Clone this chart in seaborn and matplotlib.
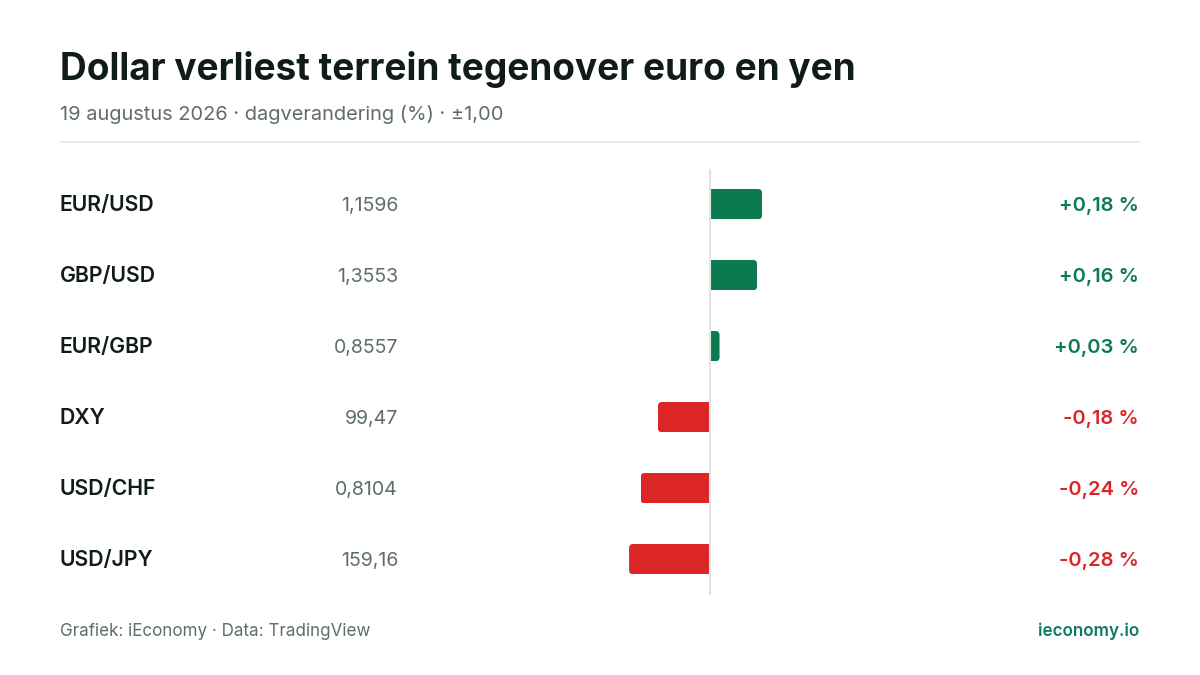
import matplotlib
matplotlib.use("Agg")
import matplotlib.pyplot as plt
from matplotlib.patches import FancyBboxPatch, Rectangle
import pandas as pd
import seaborn as sns

pairs = ["EUR/USD", "GBP/USD", "EUR/GBP", "DXY", "USD/CHF", "USD/JPY"]
prices = ["1,1596", "1,3553", "0,8557", "99,47", "0,8104", "159,16"]
# unrounded a little where the bar length shows it
changes = [0.18, 0.163, 0.033, -0.18, -0.24, -0.28]
change_labels = ["+0,18 %", "+0,16 %", "+0,03 %", "-0,18 %", "-0,24 %", "-0,28 %"]

GREEN = "#0b7a4f"
TEAL = "#0e7a62"
RED = "#dc2626"
INK = "#0f1c1a"
MUTED = "#5f6e6a"
RULE = "#e0e5e3"

sns.set_theme(style="white")
plt.rcParams["font.family"] = ["Inter", "DejaVu Sans"]

W, H = 1200, 675
PX_PER_UNIT = 289.0
PX_PER_ROW = 71.0
fig = plt.figure(figsize=(W / 100, H / 100), dpi=100, facecolor="white")


def px(x, y):
    return x / W, 1 - y / H


ax = fig.add_axes([0, 1 - 594.6 / H, 1, 426 / H])
df = pd.DataFrame({"pair": pairs, "change": changes})
colors = [GREEN if c > 0 else RED for c in changes]
sns.barplot(data=df, x="change", y="pair", hue="pair", palette=colors, legend=False,
            width=0.425, ax=ax, saturation=1)
ax.set_xlim(-710 / PX_PER_UNIT, (W - 710) / PX_PER_UNIT)
ax.set_ylim(5.5, -0.5)

# swap seaborn's square bars for ones with a rounded outer end
rx = 4 / PX_PER_UNIT
ry = 4 / PX_PER_ROW
for bar in list(ax.patches):
    x0, x1 = sorted([bar.get_x(), bar.get_x() + bar.get_width()])
    y0, y1 = sorted([bar.get_y(), bar.get_y() + bar.get_height()])
    color = bar.get_facecolor()
    bar.remove()
    # box runs past zero on the inner side, the clip cuts that part off
    left = x0 - 3 * rx if x0 == 0 else x0
    right = x1 + 3 * rx if x1 == 0 else x1
    box = FancyBboxPatch((left + rx, y0 + ry), right - left - 2 * rx, y1 - y0 - 2 * ry,
                         boxstyle=f"round,pad={rx},rounding_size={rx}",
                         mutation_aspect=ry / rx, facecolor=color, edgecolor="none")
    ax.add_patch(box)
    box.set_clip_path(Rectangle((x0, y0), x1 - x0, y1 - y0, transform=ax.transData))

ax.axvline(0, color=RULE, lw=1.5, zorder=5)
ax.axis("off")
ax.patch.set_alpha(0)

# fixed baselines so descenders do not shift the rows
for i in range(len(pairs)):
    y = 211.4 + i * PX_PER_ROW
    fig.text(*px(59.5, y), pairs[i], fontsize=15.3, fontweight="semibold", color=INK, va="baseline")
    fig.text(*px(398, y), prices[i], fontsize=14.1, color=MUTED, va="baseline", ha="right")
    fig.text(*px(1139, y), change_labels[i], fontsize=14.5, fontweight="semibold",
             color=colors[i], va="baseline", ha="right")

fig.text(*px(60, 80.4), "Dollar verliest terrein tegenover euro en yen", fontsize=26.62,
         fontweight="bold", color=INK, va="baseline")
fig.text(*px(60, 120), "19 augustus 2026 · dagverandering (%) · ±1,00", fontsize=14.42,
         color=MUTED, va="baseline")
fig.add_artist(plt.Line2D([60 / W, 1140 / W], [1 - 142 / H] * 2, color=RULE, lw=1.2))
fig.text(*px(60, 636), "Grafiek: iEconomy · Data: TradingView", fontsize=12.25, color=MUTED, va="baseline")
fig.text(*px(1139, 636), "ieconomy.io", fontsize=12.25, fontweight="semibold", color=TEAL,
         va="baseline", ha="right")

fig.savefig("out.png", dpi=100)
